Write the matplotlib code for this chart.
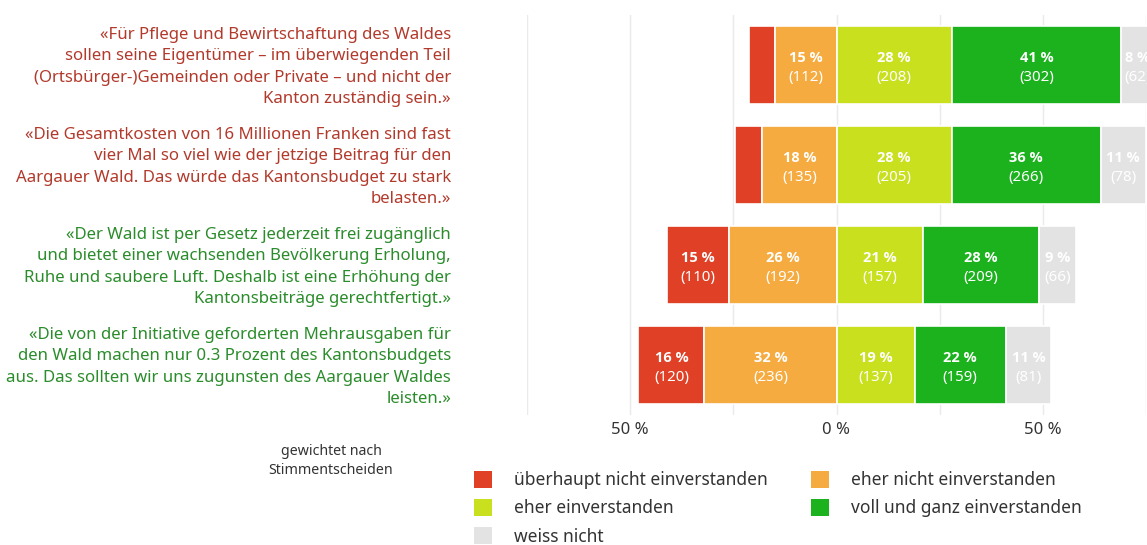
import matplotlib
matplotlib.use('Agg')
import matplotlib.pyplot as plt
from matplotlib.patches import Patch
from matplotlib.transforms import blended_transform_factory

plt.rcParams['font.family'] = ['Noto Sans', 'DejaVu Sans']

statements = [
    "«Für Pflege und Bewirtschaftung des Waldes\nsollen seine Eigentümer – im überwiegenden Teil\n(Ortsbürger-)Gemeinden oder Private – und nicht der\nKanton zuständig sein.»",
    "«Die Gesamtkosten von 16 Millionen Franken sind fast\nvier Mal so viel wie der jetzige Beitrag für den\nAargauer Wald. Das würde das Kantonsbudget zu stark\nbelasten.»",
    "«Der Wald ist per Gesetz jederzeit frei zugänglich\nund bietet einer wachsenden Bevölkerung Erholung,\nRuhe und saubere Luft. Deshalb ist eine Erhöhung der\nKantonsbeiträge gerechtfertigt.»",
    "«Die von der Initiative geforderten Mehrausgaben für\nden Wald machen nur 0.3 Prozent des Kantonsbudgets\naus. Das sollten wir uns zugunsten des Aargauer Waldes\nleisten.»",
]
statement_colors = ['#B23A2C', '#B23A2C', '#2B8C2B', '#2B8C2B']

categories = ['überhaupt nicht einverstanden', 'eher nicht einverstanden',
              'eher einverstanden', 'voll und ganz einverstanden', 'weiss nicht']
cat_colors = ['#E04126', '#F5AB40', '#C8E01E', '#1BB21E', '#E3E3E3']

pct_strong_no = [6.3, 6.5, 15, 16]
pct_rather_no = [15, 18, 26, 32]
pct_rather_yes = [28, 28, 21, 19]
pct_strong_yes = [41, 36, 28, 22]
pct_dont_know = [8, 11, 9, 11]

n_strong_no = [None, None, 110, 120]
n_rather_no = [112, 135, 192, 236]
n_rather_yes = [208, 205, 157, 137]
n_strong_yes = [302, 266, 209, 159]
n_dont_know = [62, 78, 66, 81]

xticks = [-50, 0, 50]
xtick_labels = ['50 %', '0 %', '50 %']
grid_minor = [-75, -25, 25, 75]
note = "gewichtet nach\nStimmentscheiden"

W, H = 1147, 545
fig = plt.figure(figsize=(W / 100, H / 100), dpi=100)
ax = fig.add_axes([527 / W, 1 - 415 / H, 619 / W, 400 / H])

ys = list(range(len(statements)))
bar_h = 0.78

def seg_label(x, y, pct, n):
    if n is None:
        return
    ax.text(x, y - 0.075, f"{pct:.0f} %", ha='center', va='center', color='white',
            fontsize=10.5, fontweight='bold', family=['Open Sans', 'DejaVu Sans'],
            clip_on=False)
    ax.text(x, y + 0.125, f"({n})", ha='center', va='center', color='white',
            fontsize=10.8, clip_on=False)

for i, y in enumerate(ys):
    sn, rn, ry, sy, dk = pct_strong_no[i], pct_rather_no[i], pct_rather_yes[i], pct_strong_yes[i], pct_dont_know[i]
    segs = [(-(sn + rn), sn, n_strong_no[i]),
            (-rn, rn, n_rather_no[i]),
            (0, ry, n_rather_yes[i]),
            (ry, sy, n_strong_yes[i]),
            (ry + sy, dk, n_dont_know[i])]
    for k, (left, width, n) in enumerate(segs):
        ax.barh(y, width, left=left, height=bar_h, color=cat_colors[k],
                edgecolor='white', linewidth=1.2, zorder=2, clip_on=False)
        seg_label(left + width / 2, y, width, n)

ax.set_xlim(-75, 75)
ax.set_ylim(len(statements) - 0.5, -0.5)
ax.set_xticks(xticks)
ax.set_xticklabels(xtick_labels, fontsize=12, color='#333333')
ax.set_xticks(grid_minor, minor=True)
ax.set_yticks([])
ax.tick_params(axis='x', which='both', length=0, pad=5)
ax.grid(axis='x', which='both', color='#EAEAEA', linewidth=1, zorder=0)
ax.set_axisbelow(True)
for s in ax.spines.values():
    s.set_visible(False)

trans = blended_transform_factory(fig.transFigure, ax.transData)
for i, y in enumerate(ys):
    ax.text(451 / W, y + 0.02, statements[i], transform=trans, ha='right', va='center',
            fontsize=12.1, color=statement_colors[i], linespacing=1.42, clip_on=False)

fig.text(331 / W, 1 - 461 / H, note, ha='center', va='center', fontsize=10.2,
         color='#333333', linespacing=1.4)

order = [0, 2, 4, 1, 3]
handles = [Patch(facecolor=cat_colors[k], edgecolor='none') for k in order]
labels = [categories[k] for k in order]
fig.legend(handles, labels, ncol=2, loc='upper left',
           bbox_to_anchor=(474 / W, 1 - 471 / H), frameon=False,
           fontsize=12.5, handlelength=1.03, handleheight=1.09, handletextpad=1.26,
           labelspacing=0.575, columnspacing=2.53, borderpad=0, borderaxespad=0,
           labelcolor='#333333')

fig.savefig('out.png', dpi=100)
